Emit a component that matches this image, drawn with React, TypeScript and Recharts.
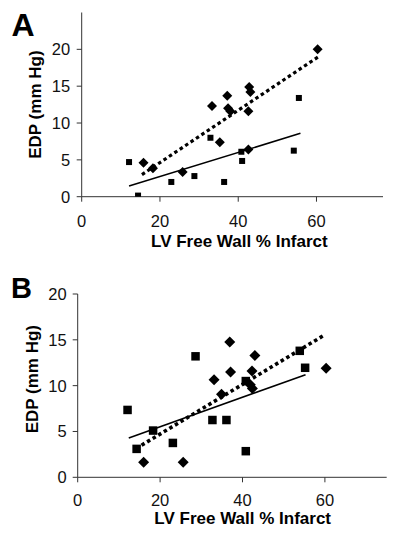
import React from 'react';
import { ScatterChart, Scatter, XAxis, YAxis, ReferenceLine } from 'recharts';

const font = '"Liberation Sans", Arial, Helvetica, sans-serif';

const xTicks = [0, 20, 40, 60];
const yTicks = [0, 5, 10, 15, 20];

// panel A
const aSquares = [
  { x: 12.1, y: 4.7 }, { x: 14.4, y: 0.15 }, { x: 22.9, y: 2.0 }, { x: 28.8, y: 2.8 },
  { x: 32.9, y: 8.0 }, { x: 36.4, y: 2.0 }, { x: 41.0, y: 4.85 }, { x: 40.8, y: 6.1 },
  { x: 54.2, y: 6.25 }, { x: 55.5, y: 13.4 },
];
const aDiamonds = [
  { x: 15.8, y: 4.6 }, { x: 18.2, y: 3.85 }, { x: 25.8, y: 3.35 }, { x: 33.3, y: 12.3 },
  { x: 35.3, y: 7.4 }, { x: 37.2, y: 13.7 }, { x: 37.4, y: 12.0 }, { x: 38.0, y: 11.6 },
  { x: 42.6, y: 11.6 }, { x: 42.8, y: 14.9 }, { x: 43.1, y: 14.2 }, { x: 42.6, y: 6.4 },
  { x: 60.3, y: 20.0 },
];
const aSolidFit = [{ x: 12.1, y: 1.45 }, { x: 55.9, y: 8.6 }];
const aDottedFit = [{ x: 15.4, y: 3.0 }, { x: 60.5, y: 19.0 }];

// panel B
const bSquares = [
  { x: 12.1, y: 7.35 }, { x: 14.3, y: 3.1 }, { x: 18.3, y: 5.1 }, { x: 23.1, y: 3.75 },
  { x: 28.6, y: 13.2 }, { x: 32.7, y: 6.25 }, { x: 36.1, y: 6.25 }, { x: 40.8, y: 2.85 },
  { x: 40.8, y: 10.5 }, { x: 53.9, y: 13.8 }, { x: 55.2, y: 11.95 },
];
const bDiamonds = [
  { x: 16.0, y: 1.65 }, { x: 25.6, y: 1.65 }, { x: 33.1, y: 10.65 }, { x: 34.9, y: 9.05 },
  { x: 36.9, y: 14.75 }, { x: 37.1, y: 11.5 }, { x: 42.3, y: 11.6 }, { x: 43.0, y: 13.3 },
  { x: 42.4, y: 9.7 }, { x: 41.9, y: 10.1 }, { x: 60.3, y: 11.9 },
];
const bSolidFit = [{ x: 12.4, y: 4.3 }, { x: 55.3, y: 11.2 }];
const bDottedFit = [{ x: 15.5, y: 3.5 }, { x: 59.8, y: 15.5 }];

const square = (s: number) => (p: any) => (
  <rect x={p.cx - s / 2} y={p.cy - s / 2} width={s} height={s} fill="#000" />
);
const diamond = (r: number) => (p: any) => (
  <polygon
    points={`${p.cx},${p.cy - r} ${p.cx + r},${p.cy} ${p.cx},${p.cy + r} ${p.cx - r},${p.cy}`}
    fill="#000"
  />
);

const Panel = (props: any) => {
  const { letter, letterTop, letterLeft, letterSize, top, height, margin, yWidth, xHeight, xMax, yMax,
    squares, diamonds, solid, dotted, sq, dm, dotW, xTickMargin, yTickMargin, yLabelX, yLabelDy, xLabelDx, xLabelY } = props;
  const tick = { fill: '#111', fontSize: 16.5, fontFamily: font };
  return (
    <div style={{ position: 'absolute', top, left: 0, width: 400, height }}>
      <div style={{ position: 'absolute', top: letterTop, left: letterLeft, fontFamily: font, fontWeight: 'bold',
        fontSize: letterSize, lineHeight: `${letterSize}px`, color: '#000' }}>{letter}</div>
      <ScatterChart width={400} height={height} margin={margin}>
        <XAxis type="number" dataKey="x" domain={[0, xMax]} ticks={xTicks} height={xHeight}
          tickSize={5} tickMargin={xTickMargin} stroke="#333" tick={tick} allowDataOverflow
          label={{
            content: (lp: any) => {
              const vb = lp.viewBox || {};
              return (
                <text x={vb.x + vb.width / 2 + xLabelDx} y={xLabelY} textAnchor="middle"
                  fontFamily={font} fontWeight="bold" fontSize={17} fill="#000">LV Free Wall % Infarct</text>
              );
            },
          }} />
        <YAxis type="number" dataKey="y" domain={[0, yMax]} ticks={yTicks} width={yWidth}
          tickSize={5} tickMargin={yTickMargin} stroke="#333" tick={tick} allowDataOverflow
          label={{
            content: (lp: any) => {
              const vb = lp.viewBox || {};
              const cy = vb.y + vb.height / 2 + yLabelDy;
              return (
                <text x={yLabelX} y={cy} dy={6} transform={`rotate(-90, ${yLabelX}, ${cy})`} textAnchor="middle"
                  fontFamily={font} fontWeight="bold" fontSize={17} fill="#000">EDP (mm Hg)</text>
              );
            },
          }} />
        <ReferenceLine segment={solid} stroke="#000" strokeWidth={1.6} />
        <ReferenceLine segment={dotted} stroke="#000" strokeWidth={dotW} strokeDasharray="3.5 3" />
        <Scatter data={squares} shape={square(sq)} isAnimationActive={false} />
        <Scatter data={diamonds} shape={diamond(dm)} isAnimationActive={false} />
      </ScatterChart>
    </div>
  );
};

export default function App() {
  return (
    <div style={{ position: 'absolute', top: 0, left: 0, width: 400, height: 534, background: '#fff' }}>
      <Panel letter="A" letterTop={8.9} letterLeft={11.5} letterSize={32}
        top={0} height={262} margin={{ top: 12.5, right: 17, left: 0, bottom: 0 }}
        yWidth={81.7} xHeight={65.3} xMax={77} yMax={25}
        squares={aSquares} diamonds={aDiamonds} solid={aSolidFit} dotted={aDottedFit}
        sq={6} dm={5} dotW={3.2} xTickMargin={14} yTickMargin={6.5}
        yLabelX={35} yLabelDy={0} xLabelDx={7} xLabelY={247} />
      <Panel letter="B" letterTop={5.8} letterLeft={11} letterSize={29}
        top={268} height={266} margin={{ top: 26, right: 13.3, left: 0, bottom: 0 }}
        yWidth={77.7} xHeight={56.7} xMax={75} yMax={20}
        squares={bSquares} diamonds={bDiamonds} solid={bSolidFit} dotted={bDottedFit}
        sq={8.5} dm={5.5} dotW={3.6} xTickMargin={11.7} yTickMargin={6}
        yLabelX={31.7} yLabelDy={-6.5} xLabelDx={10.5} xLabelY={256.3} />
    </div>
  );
}
